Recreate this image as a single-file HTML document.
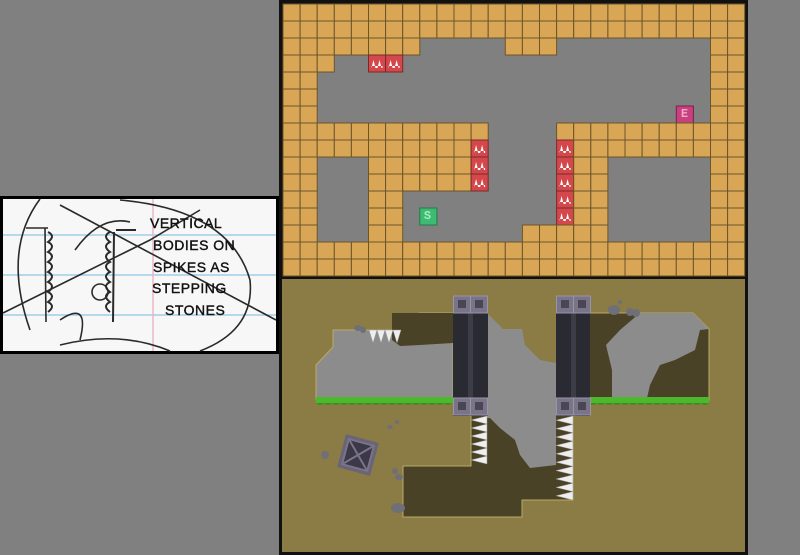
<!DOCTYPE html>
<html><head><meta charset="utf-8"><style>
html,body{margin:0;padding:0;background:#808080;width:800px;height:555px;overflow:hidden}
svg{display:block}
</style></head><body>
<svg width="800" height="555" viewBox="0 0 800 555" xmlns="http://www.w3.org/2000/svg">
<rect width="800" height="555" fill="#808080"/>
<!-- sketch panel -->
<rect x="0" y="196" width="279" height="158" fill="#000"/>
<rect x="3" y="199" width="273" height="152" fill="#f7f7f7"/>
<g stroke="#9fcde6" stroke-width="1.5">
<line x1="3" y1="235" x2="276" y2="235"/><line x1="3" y1="275" x2="276" y2="275"/><line x1="3" y1="315" x2="276" y2="315"/>
</g>
<line x1="153" y1="199" x2="153" y2="351" stroke="#e8b8c8" stroke-width="1.5"/>
<g fill="none" stroke="#2a2a2a" stroke-width="1.6">
<path d="M40 199 Q 2 250 30 330"/>
<path d="M120 200 Q 230 210 250 280 Q 255 330 200 351"/>
<path d="M3 313 L 150 240 L 200 210"/>
<path d="M60 205 L 276 320"/>
<path d="M26 228 L 48 228 M45 228 L 46 322"/>
<path d="M48 232 q8 4 0 10 q8 4 0 10 q8 4 0 10 q8 4 0 10 q8 4 0 10 q8 4 0 10 q8 4 0 10 q8 4 0 10" stroke-width="2"/>
<path d="M110 232 q-8 4 0 10 q-8 4 0 10 q-8 4 0 10 q-8 4 0 10 q-8 4 0 10 q-8 4 0 10 q-8 4 0 10 q-8 4 0 10" stroke-width="2"/>
<path d="M116 230 L 136 230 M114 232 L 113 322" stroke-width="2"/>
<path d="M75 250 Q 100 215 130 222"/>
<path d="M60 320 Q 90 300 80 340"/>
<circle cx="100" cy="292" r="8"/>
<path d="M60 345 Q 120 330 170 351"/>
</g>
<g font-family="Liberation Sans, sans-serif" font-size="14" fill="#111" stroke="#111" stroke-width="0.4" letter-spacing="0.5">
<text x="150" y="228">VERTICAL</text>
<text x="153" y="250">BODIES ON</text>
<text x="153" y="272">SPIKES AS</text>
<text x="152" y="293">STEPPING</text>
<text x="165" y="315">STONES</text>
</g>
<!-- right frame -->
<rect x="279" y="0" width="469" height="555" fill="#111"/>
<rect x="283" y="4" width="462" height="272" fill="#808080"/>
<g id="tiles"></g>
<!-- game scene -->
<rect x="282" y="279" width="463" height="273" fill="#8a7c44"/>
<polygon points="403,466 471,466 471,415 573,415 573,500 522,500 522,517 403,517" fill="#4a4226" stroke="#b8ab68" stroke-width="1"/>
<polygon points="316,365 333,347 333,330 419,330 419,313 453,313 453,400 316,400" fill="#8c8c8c" stroke="#b8ab68" stroke-width="1"/>
<path d="M392,313 L453,313 L453,343 L420,345 L400,346 L392,340 Z" fill="#4a4226"/>
<polygon points="487,313 503,329 522,329 525,345 540,360 556,363 556,465 530,468 520,455 515,440 500,428 490,418 487,418" fill="#8c8c8c"/>
<polygon points="589,313 693,313 709,329 709,400 589,400" fill="#4a4226" stroke="#b8ab68" stroke-width="1"/>
<path d="M640,313 L693,313 L709,329 L700,330 L695,350 L675,360 L660,365 L650,385 L647,398 L612,398 L612,370 L606,345 L620,330 Z" fill="#8c8c8c"/>
<rect x="316" y="397" width="137" height="6" fill="#4cb82c"/>
<rect x="589" y="397" width="120" height="6" fill="#4cb82c"/>
<path d="M316,403 q4 4 8 0 q4 4 8 0 q4 4 8 0 q4 4 8 0 q4 4 8 0 q4 4 8 0 q4 4 8 0 q4 4 8 0 q4 4 8 0 q4 4 8 0 q4 4 8 0 q4 4 8 0 q4 4 8 0 q4 4 8 0 q4 4 8 0 q4 4 8 0 q4 4 8 0 Z" fill="#3a8f22"/>
<path d="M589,403 q4 4 8 0 q4 4 8 0 q4 4 8 0 q4 4 8 0 q4 4 8 0 q4 4 8 0 q4 4 8 0 q4 4 8 0 q4 4 8 0 q4 4 8 0 q4 4 8 0 q4 4 8 0 q4 4 8 0 q4 4 8 0 q4 4 8 0 Z" fill="#3a8f22"/>
<g>
<rect x="453" y="296" width="35" height="120" fill="#2a2a33"/>
<rect x="468" y="296" width="5" height="120" fill="#3d3d48"/>
<rect x="556" y="296" width="34" height="120" fill="#2a2a33"/>
<rect x="571" y="296" width="5" height="120" fill="#3d3d48"/>
<g fill="#7a7488" stroke="#9a94a8">
<rect x="453.5" y="296" width="17" height="17"/><rect x="470.5" y="296" width="17" height="17"/>
<rect x="453.5" y="398" width="17" height="17"/><rect x="470.5" y="398" width="17" height="17"/>
<rect x="556.5" y="296" width="17" height="17"/><rect x="573.5" y="296" width="17" height="17"/>
<rect x="556.5" y="398" width="17" height="17"/><rect x="573.5" y="398" width="17" height="17"/>
</g>
<g fill="#4a4656">
<rect x="458" y="300" width="8" height="8"/><rect x="475" y="300" width="8" height="8"/>
<rect x="458" y="402" width="8" height="8"/><rect x="475" y="402" width="8" height="8"/>
<rect x="561" y="300" width="8" height="8"/><rect x="578" y="300" width="8" height="8"/>
<rect x="561" y="402" width="8" height="8"/><rect x="578" y="402" width="8" height="8"/>
</g>
</g>
<g fill="#eee" stroke="#999" stroke-width="0.5">
<path d="M369,330 l8,0 l-4,13 z M377,330 l8,0 l-4,13 z M385,330 l8,0 l-4,13 z M393,330 l8,0 l-4,13 z"/>
<path d="M487,416 l0,8 l-16,-4 z M487,424 l0,8 l-16,-4 z M487,432 l0,8 l-16,-4 z M487,440 l0,8 l-16,-4 z M487,448 l0,8 l-16,-4 z M487,456 l0,8 l-16,-4 z"/>
<path d="M573,416 l0,8.4 l-17,-4.2 z M573,424.4 l0,8.4 l-17,-4.2 z M573,432.8 l0,8.4 l-17,-4.2 z M573,441.2 l0,8.4 l-17,-4.2 z M573,449.6 l0,8.4 l-17,-4.2 z M573,458 l0,8.4 l-17,-4.2 z M573,466.4 l0,8.4 l-17,-4.2 z M573,474.8 l0,8.4 l-17,-4.2 z M573,483.2 l0,8.4 l-17,-4.2 z M573,491.6 l0,8.4 l-17,-4.2 z"/>
</g>
<g transform="translate(358,455) rotate(15)">
<rect x="-17" y="-17" width="34" height="34" fill="#6a6478"/>
<rect x="-13" y="-13" width="26" height="26" fill="#3c3848" stroke="#7a7488" stroke-width="2"/>
<path d="M-12,-12 L12,12 M12,-12 L-12,12" stroke="#7a7488" stroke-width="2"/>
</g>
<g fill="#6f6f78">
<ellipse cx="358" cy="328" rx="4" ry="3"/><ellipse cx="363" cy="330" rx="3" ry="3"/>
<ellipse cx="614" cy="310" rx="6" ry="5"/><ellipse cx="630" cy="312" rx="4" ry="4"/><ellipse cx="636" cy="313" rx="4" ry="4"/><ellipse cx="620" cy="302" rx="2" ry="2"/>
<ellipse cx="390" cy="427" rx="3" ry="2"/><ellipse cx="397" cy="422" rx="2" ry="2"/>
<ellipse cx="325" cy="455" rx="4" ry="4"/>
<ellipse cx="395" cy="471" rx="3" ry="3"/><ellipse cx="399" cy="477" rx="4" ry="3"/>
<ellipse cx="398" cy="508" rx="7" ry="5"/>
</g>
</svg>
<script>
var rows=[
"###########################",
"###########################",
"########.....###.........##",
"###..xx..................##",
"##.......................##",
"##.......................##",
"##.....................E.##",
"############....###########",
"###########x....x##########",
"##...######x....x##......##",
"##...######x....x##......##",
"##...##.........x##......##",
"##...##.S.......x##......##",
"##...##.......#####......##",
"###########################",
"###########################"];
var g=document.getElementById("tiles"),h="";
for(var r=0;r<16;r++)for(var c=0;c<27;c++){var ch=rows[r][c],x=(283+c*17.1).toFixed(1),y=4+r*17;
if(ch=="#")h+='<rect x="'+x+'" y="'+y+'" width="17.1" height="17" fill="#d9a656" stroke="#6b5529" stroke-width="1"/>';
else if(ch=="x")h+='<rect x="'+x+'" y="'+y+'" width="17.1" height="17" fill="#d4484c" stroke="#7a2a2a"/><path transform="translate('+x+','+y+')" d="M3,13 L5,5 L7,13 Z M9,13 L11,5 L13,13 Z M3,13 h11 v-2 h-11z" fill="#fff"/>';
else if(ch=="S")h+='<rect x="'+x+'" y="'+y+'" width="17.1" height="17" fill="#3dbb72" stroke="#237a48"/>';
else if(ch=="E")h+='<rect x="'+x+'" y="'+y+'" width="17.1" height="17" fill="#c8407e" stroke="#7a2248"/>';}
g.innerHTML=h;
</script>
<div style="position:absolute;left:419px;top:208px;width:17px;height:17px;font:bold 12px 'Liberation Mono',monospace;color:#a8ecc4;text-align:center;line-height:17px">S</div>
<div style="position:absolute;left:676px;top:106px;width:17px;height:17px;font:bold 12px 'Liberation Mono',monospace;color:#f0a8c8;text-align:center;line-height:17px">E</div>
</body></html>
